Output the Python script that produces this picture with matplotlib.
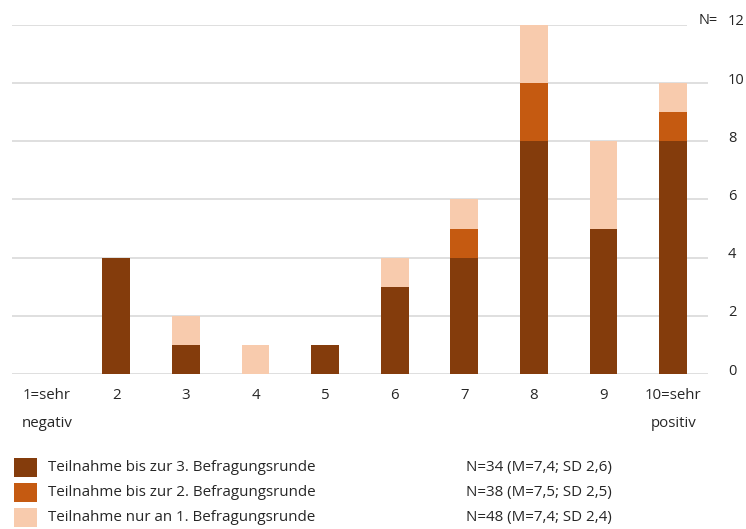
import matplotlib
matplotlib.use('Agg')
import matplotlib.pyplot as plt
from matplotlib.patches import Rectangle
from matplotlib.transforms import ScaledTranslation
import numpy as np

plt.rcParams['font.family'] = ['Open Sans', 'DejaVu Sans']

categories = ['1=sehr\nnegativ', '2', '3', '4', '5', '6', '7', '8', '9', '10=sehr\npositiv']
round3 = [0, 4, 1, 0, 1, 3, 4, 8, 5, 8]
round2 = [0, 0, 0, 0, 0, 0, 1, 2, 0, 1]
round1 = [0, 0, 1, 1, 0, 1, 1, 2, 3, 1]
series_labels = ['Teilnahme bis zur 3. Befragungsrunde',
                 'Teilnahme bis zur 2. Befragungsrunde',
                 'Teilnahme nur an 1. Befragungsrunde']
series_stats = ['N=34 (M=7,4; SD 2,6)', 'N=38 (M=7,5; SD 2,5)', 'N=48 (M=7,4; SD 2,4)']
colors = ['#843C0C', '#C55A11', '#F8CBAD']
yticks = [0, 2, 4, 6, 8, 10, 12]
txt = '#262626'

fig = plt.figure(figsize=(7.46, 5.29), dpi=100)
ax = fig.add_axes([0.016, 0.293, 0.933, 0.66])

x = np.arange(len(categories))
r3 = np.array(round3)
r2 = np.array(round2)
r1 = np.array(round1)
w = 0.4
ax.bar(x, r3, w, color=colors[0], zorder=2)
ax.bar(x, r2, w, bottom=r3, color=colors[1], zorder=2)
ax.bar(x, r1, w, bottom=r3 + r2, color=colors[2], zorder=2)

ax.set_xlim(-0.5, len(categories) - 0.5)
ax.set_ylim(0, 12)
ax.set_yticks(yticks)
ax.yaxis.tick_right()
ax.grid(axis='y', color='#D9D9D9', linewidth=1.2, zorder=0)
ax.tick_params(axis='y', length=0, pad=14.4, labelsize=10.5, labelcolor=txt)
ax.tick_params(axis='x', length=0, pad=10, labelsize=10.8, labelcolor=txt)
for lbl in ax.get_yticklabels():
    lbl.set_horizontalalignment('left')
    lbl.set_transform(lbl.get_transform() + ScaledTranslation(0, 0.05, fig.dpi_scale_trans))
ax.set_xticks(x)
ax.set_xticklabels(categories, linespacing=2.2, va='top')
for s in ax.spines.values():
    s.set_visible(False)

# "N=" label before the top tick, white patch hides end of top gridline
fig.patches.append(Rectangle((687 / 746, 1 - 29 / 529), 22 / 746, 8 / 529,
                             transform=fig.transFigure, facecolor='white',
                             edgecolor='none', zorder=5))
fig.text(699 / 746, 1 - 20 / 529, 'N=', ha='left', va='center', fontsize=10.5,
         color=txt, zorder=6)

# legend
row_y = [467.5, 492.5, 517.5]
for yy, c, lab, st in zip(row_y, colors, series_labels, series_stats):
    fy = 1 - yy / 529
    fig.patches.append(Rectangle((14 / 746, fy - 9.5 / 529), 23 / 746, 19 / 529,
                                 transform=fig.transFigure, facecolor=c, edgecolor='none'))
    fig.text(48 / 746, fy, lab, ha='left', va='center', fontsize=10.9, color=txt)
    fig.text(466 / 746, fy, st, ha='left', va='center', fontsize=10.9, color=txt)

fig.savefig('out.png', dpi=100)
